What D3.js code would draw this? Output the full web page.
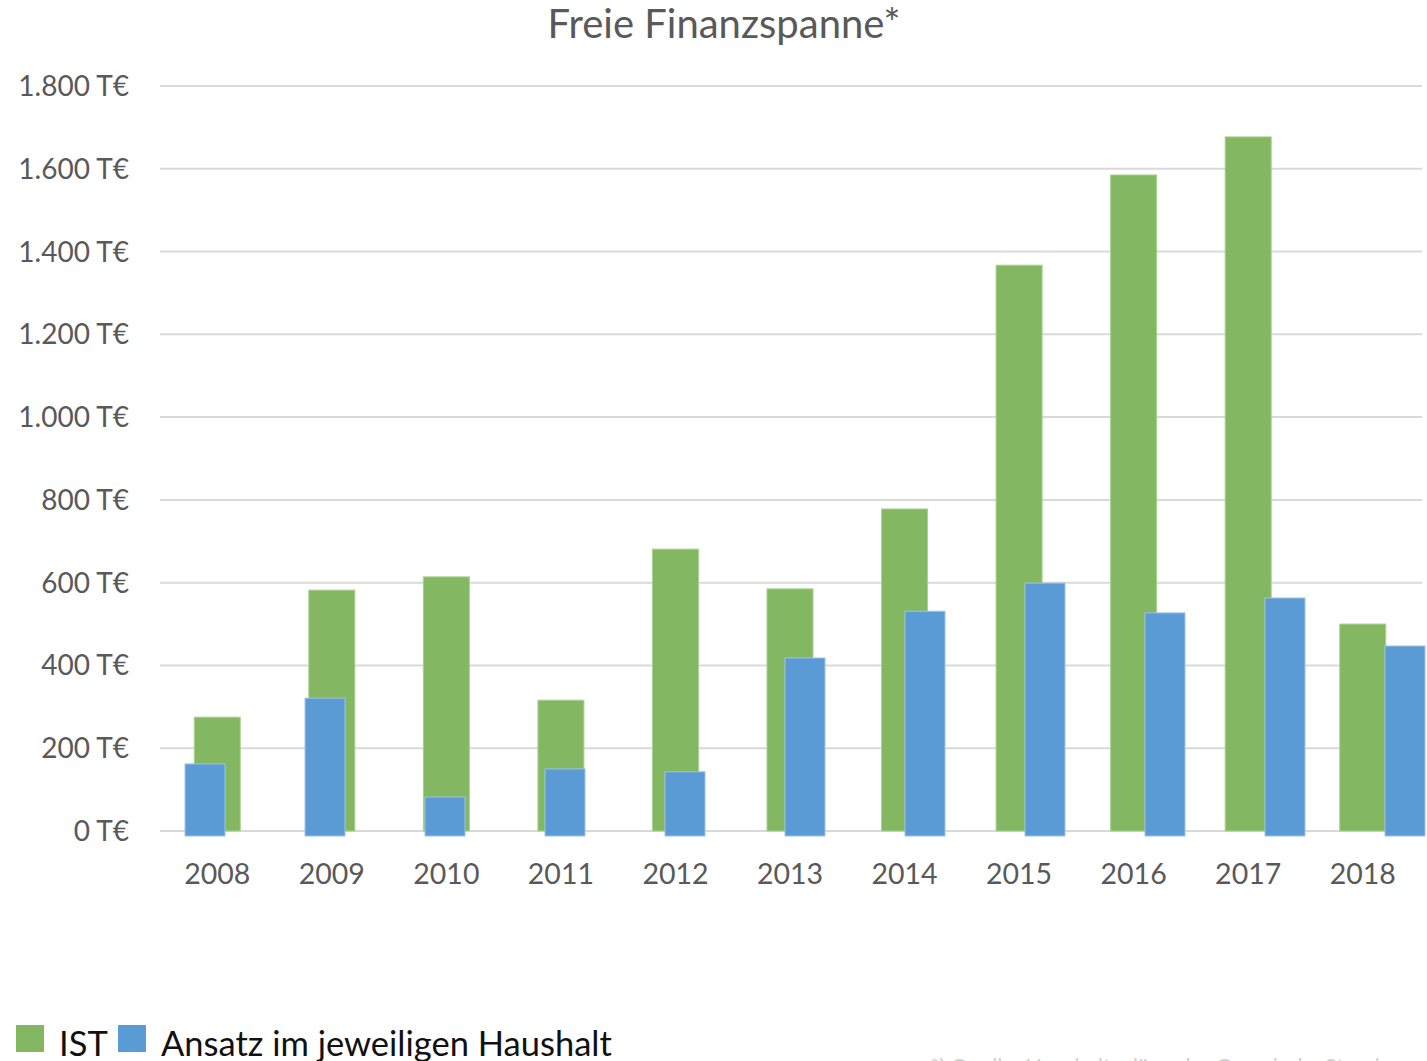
<!DOCTYPE html>
<html>
<head>
<meta charset="utf-8">
<script src="https://cdn.jsdelivr.net/npm/d3@7"></script>
<style>
  body { margin: 0; background: #fff; }
  text { font-family: Lato, "Open Sans", sans-serif; }
</style>
</head>
<body>
<div id="chart"></div>
<script>
const years = ["2008","2009","2010","2011","2012","2013","2014","2015","2016","2017","2018"];
const ist = [275, 582, 614, 316, 681, 585, 778, 1367, 1585, 1677, 500];
const ansatz = [162, 321, 82, 150, 143, 418, 531, 599, 527, 563, 447];
const yTicks = [0, 200, 400, 600, 800, 1000, 1200, 1400, 1600, 1800];

const W = 1427, H = 1061;
const GREEN = "#84b762", BLUE = "#5b9bd5";

const svg = d3.select("#chart").append("svg")
  .attr("width", W)
  .attr("height", H);

const y = d3.scaleLinear().domain([0, 1800]).range([831, 86]);

// main category axis (IST bars)
const x = d3.scaleBand()
  .domain(years)
  .range([160, 1420])
  .paddingInner(0.6)
  .paddingOuter(0.3);

// second band for the Ansatz bars, spaced a bit wider
const x2 = d3.scaleBand()
  .domain(years)
  .range([145, 1465])
  .paddingInner(2/3)
  .paddingOuter(1/3);

const fmt = v => d3.format(",")(v).replace(/,/g, ".") + " T€";

// gridlines
svg.append("g")
  .selectAll("line")
  .data(yTicks)
  .join("line")
    .attr("x1", 160)
    .attr("x2", 1422)
    .attr("y1", d => y(d))
    .attr("y2", d => y(d))
    .attr("stroke", "#d9d9d9")
    .attr("stroke-width", 2);

// y labels
svg.append("g")
  .selectAll("text")
  .data(yTicks)
  .join("text")
    .attr("x", 129)
    .attr("y", d => y(d) + 10)
    .attr("text-anchor", "end")
    .attr("font-size", 28)
    .attr("fill", "#595959")
    .text(fmt);

// IST bars
svg.append("g")
  .selectAll("rect")
  .data(years)
  .join("rect")
    .attr("x", d => x(d) + x.bandwidth()/2 - 23)
    .attr("width", 46)
    .attr("y", (d, i) => y(ist[i]))
    .attr("height", (d, i) => y(0) - y(ist[i]))
    .attr("fill", GREEN)
    .attr("stroke", "#a9d18e")
    .attr("stroke-width", 1);

// Ansatz bars (drawn a little below the baseline, like the original)
svg.append("g")
  .selectAll("rect")
  .data(years)
  .join("rect")
    .attr("x", d => x2(d))
    .attr("width", x2.bandwidth())
    .attr("y", (d, i) => y(ansatz[i]))
    .attr("height", (d, i) => y(0) + 5 - y(ansatz[i]))
    .attr("fill", BLUE)
    .attr("stroke", "#9dc3e6")
    .attr("stroke-width", 1);

// x labels
svg.append("g")
  .selectAll("text")
  .data(years)
  .join("text")
    .attr("x", d => x(d) + x.bandwidth()/2)
    .attr("y", 884)
    .attr("text-anchor", "middle")
    .attr("font-size", 28.5)
    .attr("fill", "#595959")
    .text(d => d);

// title
svg.append("text")
  .attr("x", 724)
  .attr("y", 38)
  .attr("text-anchor", "middle")
  .attr("font-size", 40)
  .attr("fill", "#595959")
  .text("Freie Finanzspanne*");

// legend
const legend = [
  {name: "IST", color: GREEN, x: 16},
  {name: "Ansatz im jeweiligen Haushalt", color: BLUE, x: 118}
];
const lg = svg.append("g")
  .selectAll("g")
  .data(legend)
  .join("g")
    .attr("transform", d => `translate(${d.x},1025)`);
lg.append("rect")
  .attr("width", 28)
  .attr("height", 27)
  .attr("fill", d => d.color);
lg.append("text")
  .attr("x", 43)
  .attr("y", 31)
  .attr("font-size", 34.5)
  .attr("fill", "#111")
  .text(d => d.name);

// footnote, mostly cut off at the bottom edge
svg.append("text")
  .attr("x", 930)
  .attr("y", 1074)
  .attr("font-size", 22)
  .attr("fill", "#d0d0d0")
  .text("*) Quelle: Haushaltspläne der Gemeinde, Stand");
</script>
</body>
</html>
